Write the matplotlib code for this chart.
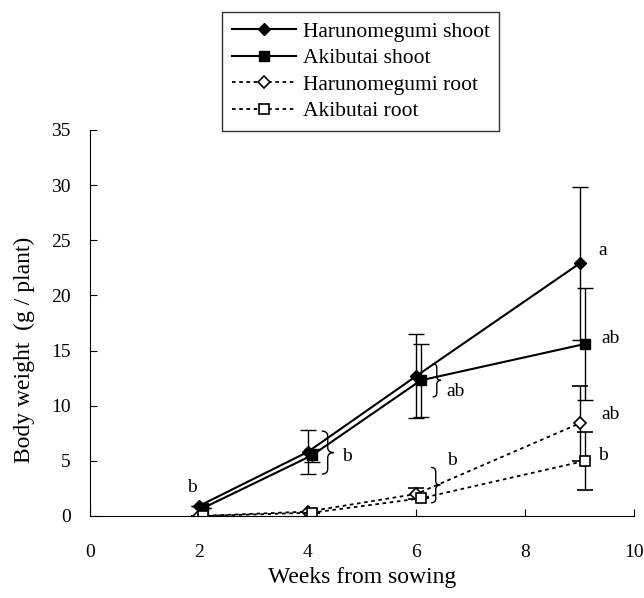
import numpy as np
import matplotlib.pyplot as plt
from matplotlib.lines import Line2D
from matplotlib.path import Path
from matplotlib.patches import PathPatch

plt.rcParams["font.family"] = ["Liberation Serif", "DejaVu Serif"]

# data
weeks_h = [2, 4, 6, 9]
weeks_a = [2.07, 4.08, 6.08, 9.1]
h_shoot = [0.9, 5.8, 12.7, 22.9]
h_shoot_err = [0.0, 2.0, 3.8, 6.9]
a_shoot = [0.7, 5.5, 12.3, 15.6]
a_shoot_err = [0.0, 0.6, 3.3, 5.1]
h_root = [0.0, 0.4, 2.0, 8.4]
h_root_err = [0.0, 0.0, 0.5, 3.4]
a_root = [0.0, 0.3, 1.6, 5.0]
a_root_err = [0.0, 0.0, 0.0, 2.6]
series_names = ["Harunomegumi shoot", "Akibutai shoot",
                "Harunomegumi root", "Akibutai root"]
letters = ["b", "b", "ab", "b", "a", "ab", "ab", "b"]
letter_x = [1.88, 4.72, 6.72, 6.65, 9.43, 9.56, 9.56, 9.43]
letter_y = [2.6, 5.4, 11.3, 5.0, 24.1, 16.1, 9.2, 5.5]


def brace(ax, x0, y0, y1, w):
    ym = (y0 + y1) / 2
    h = y1 - y0
    xm = x0 + w / 2
    verts = [(x0, y1), (xm, y1), (xm, y1 - h * 0.12),
             (xm, ym + h * 0.12), (xm, ym), (x0 + w, ym),
             (xm, ym), (xm, ym - h * 0.12),
             (xm, y0 + h * 0.12), (xm, y0), (x0, y0)]
    codes = [Path.MOVETO, Path.CURVE3, Path.CURVE3,
             Path.LINETO, Path.CURVE3, Path.CURVE3,
             Path.CURVE3, Path.CURVE3,
             Path.LINETO, Path.CURVE3, Path.CURVE3]
    ax.add_patch(PathPatch(Path(verts, codes), fill=False, lw=1.0, color="black"))


fig = plt.figure(figsize=(6.44, 5.98), dpi=100)
ax = fig.add_axes([90 / 644, 82 / 598, 544 / 644, 386 / 598])

eb = dict(capsize=6, elinewidth=1.0, capthick=1.0, ecolor="black")
styles = [
    dict(ls="-", lw=1.5, marker="D", ms=6, mfc="black"),
    dict(ls="-", lw=1.5, marker="s", ms=7, mfc="black"),
    dict(ls=(0, (2, 2)), lw=1.3, marker="D", ms=6, mfc="white", mew=1.2),
    dict(ls=(0, (2, 2)), lw=1.3, marker="s", ms=7, mfc="white", mew=1.2),
]
xs = [weeks_h, weeks_a, weeks_h, weeks_a]
ys = [h_shoot, a_shoot, h_root, a_root]
errs = [h_shoot_err, a_shoot_err, h_root_err, a_root_err]
for x, y, e, st in zip(xs, ys, errs, styles):
    ax.errorbar(x, y, yerr=e, color="black", mec="black", **st, **eb)

brace(ax, 4.26, 3.8, 7.7, 0.22)
brace(ax, 6.3, 10.8, 13.8, 0.15)
brace(ax, 6.27, 1.2, 4.4, 0.17)
for t, x, y in zip(letters, letter_x, letter_y):
    ax.text(x, y, t, fontsize=14, ha="center", va="center")

ax.set_xlim(0, 10)
ax.set_ylim(0, 35)
ax.set_xticks(range(0, 11, 2))
ax.set_yticks(range(0, 36, 5))
ax.tick_params(direction="in", length=5, labelsize=14)
ax.tick_params(axis="x", pad=20)
ax.tick_params(axis="y", pad=14)
ax.spines["top"].set_visible(False)
ax.spines["right"].set_visible(False)
ax.set_xlabel("Weeks from sowing", fontsize=17)
ax.set_ylabel("Body weight  (g / plant)", fontsize=17)
ax.xaxis.set_label_coords(0.5, -0.16)
ax.yaxis.set_label_coords(-0.12, 0.43)
ax.xaxis.label.set_va("center")
ax.yaxis.label.set_va("center")

handles = [Line2D([], [], color="black", mec="black", **st) for st in styles]
leg = fig.legend(handles, series_names, loc="upper left",
                 bbox_to_anchor=(222 / 644, 1 - 12 / 598),
                 fontsize=15.5, frameon=True, fancybox=False, edgecolor="black",
                 handlelength=3.0, handletextpad=0.3, borderpad=0.45,
                 labelspacing=0.3, borderaxespad=0)
leg.get_frame().set_linewidth(1.0)

fig.savefig("out.png", dpi=100)
